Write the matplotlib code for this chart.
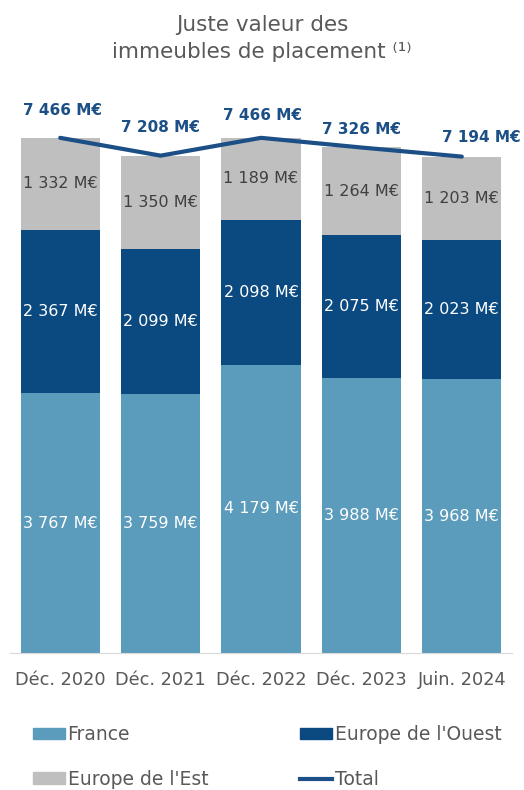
import matplotlib.pyplot as plt
from matplotlib.patches import Patch
from matplotlib.lines import Line2D

plt.rcParams['font.family'] = ['DejaVu Sans']

# data
periods = ['Déc. 2020', 'Déc. 2021', 'Déc. 2022', 'Déc. 2023', 'Juin. 2024']
france = [3767, 3759, 4179, 3988, 3968]
europe_ouest = [2367, 2099, 2098, 2075, 2023]
europe_est = [1332, 1350, 1189, 1264, 1203]
total = [7466, 7208, 7466, 7326, 7194]

c_france = '#5b9bbb'
c_ouest = '#0b4a80'
c_est = '#bfbfbf'
c_total = '#1b4f86'
c_text = '#595959'

fig = plt.figure(figsize=(5.24, 7.9), dpi=100)
ax = fig.add_axes([10/524, 137/790, 502/524, 552/790])

x = list(range(len(periods)))
w = 0.79
ax.bar(x, france, width=w, color=c_france)
ax.bar(x, europe_ouest, width=w, bottom=france, color=c_ouest)
bottom2 = [a + b for a, b in zip(france, europe_ouest)]
ax.bar(x, europe_est, width=w, bottom=bottom2, color=c_est)

# segment labels
def fmt(v):
    return f'{v:,}'.replace(',', ' ') + ' M€'

for i in x:
    ax.text(i, france[i] / 2, fmt(france[i]), ha='center', va='center',
            color='white', fontsize=11.5)
    ax.text(i, france[i] + europe_ouest[i] / 2, fmt(europe_ouest[i]),
            ha='center', va='center', color='white', fontsize=11.5)
    ax.text(i, bottom2[i] + europe_est[i] / 2, fmt(europe_est[i]),
            ha='center', va='center', color='#404040', fontsize=11.5)

# total line
ax.plot(x, total, color=c_total, lw=3, solid_capstyle='round')
offsets = [(2, 20), (0, 20), (1, 16), (0, 13), (14, 14)]
for i in x:
    ax.annotate(fmt(total[i]), (i, total[i]), xytext=offsets[i],
                textcoords='offset points', ha='center', va='center',
                color=c_total, fontsize=11, fontweight='bold')

ax.set_xlim(-0.5, 4.5)
ax.set_ylim(0, 8000)
ax.set_xticks(x)
ax.set_xticklabels(periods, fontsize=12.8, color=c_text)
ax.tick_params(axis='x', length=0, pad=13)
ax.set_yticks([])
for s in ['top', 'left', 'right']:
    ax.spines[s].set_visible(False)
ax.spines['bottom'].set_color('#d9d9d9')

fig.text(0.5, 1 - 25/790, 'Juste valeur des', ha='center', va='center',
         fontsize=15.5, color=c_text)
fig.text(0.5, 1 - 52/790, 'immeubles de placement ⁽¹⁾', ha='center',
         va='center', fontsize=15.5, color=c_text)

handles = [Patch(color=c_france, label='France'),
           Patch(color=c_est, label="Europe de l'Est"),
           Patch(color=c_ouest, label="Europe de l'Ouest"),
           Line2D([], [], color=c_total, lw=3, label='Total')]
leg = fig.legend(handles=handles, ncol=2, loc='center',
                 bbox_to_anchor=(0.51, 1 - 757/790), frameon=False,
                 fontsize=13.5, handlelength=1.7, handleheight=0.55,
                 handletextpad=0.15, columnspacing=4.9, labelspacing=1.35)
for t in leg.get_texts():
    t.set_color(c_text)

fig.savefig('out.png', dpi=100)
